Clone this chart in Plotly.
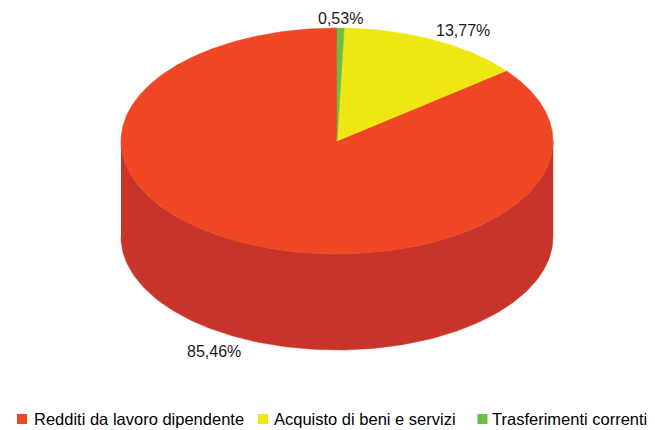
import numpy as np
import plotly.graph_objects as go

categories = ["Redditi da lavoro dipendente", "Acquisto di beni e servizi", "Trasferimenti correnti"]
values = [85.46, 13.77, 0.53]
labels = ["85,46%", "13,77%", "0,53%"]

top_colors = ["#EF4623", "#EEE713", "#6ABD45"]
side_colors = ["#C9342A", "#C4BE10", "#559A37"]

# geometry (pixel space of the browser window)
CX, CY, RX, RY, DEPTH = 337, 141, 216, 113, 96
START = 90.0  # degrees, counter-clockwise direction
PAGE_OFFSET = 8  # default body margin of the page

total = sum(values)
fig = go.Figure()

def pt(t, dy=0.0):
    r = np.radians(t)
    return CX + RX * np.cos(r), CY - RY * np.sin(r) + dy

ranges = []
a = START
for v in values:
    span = v / total * 360.0
    ranges.append((a, a + span))
    a += span

# visible front sides
for (a0, a1), col in zip(ranges, side_colors):
    for k in range(-1, 3):
        lo = max(a0, 180 + 360 * k)
        hi = min(a1, 360 + 360 * k)
        if hi > lo:
            t = np.linspace(lo, hi, 160)
            xs_t, ys_t = pt(t)
            xs_b, ys_b = pt(t[::-1], DEPTH)
            fig.add_trace(go.Scatter(
                x=np.concatenate([xs_t, xs_b]), y=np.concatenate([ys_t, ys_b]),
                fill="toself", fillcolor=col, mode="lines",
                line=dict(width=0.5, color=col), hoverinfo="skip", showlegend=False))

# top faces
for (a0, a1), col in zip(ranges, top_colors):
    t = np.linspace(a0, a1, max(4, int((a1 - a0) * 2)))
    xs, ys = pt(t)
    fig.add_trace(go.Scatter(
        x=np.concatenate([[CX], xs, [CX]]), y=np.concatenate([[CY], ys, [CY]]),
        fill="toself", fillcolor=col, mode="lines",
        line=dict(width=0.5, color=col), hoverinfo="skip", showlegend=False))

FONT = "Liberation Sans, Arial"

# data labels
for (a0, a1), lab in zip(ranges, labels):
    m = (a0 + a1) / 2
    c, s = np.cos(np.radians(m)), np.sin(np.radians(m))
    x, y = pt(m)
    if s < 0:
        y += DEPTH
    if abs(c) < 0.15:
        xa = "center"
    elif c > 0:
        xa = "left"
    else:
        xa = "right"
    ya = "bottom" if s > 0 else "top"
    fig.add_annotation(x=x, y=y + (1 if s > 0 else 2), text=lab, showarrow=False,
                       xanchor=xa, yanchor=ya,
                       font=dict(family=FONT, size=16, color="#1a1a1a"))

# legend (custom, bottom row)
LEG_Y = 419
leg_sq_x = [22, 263, 482.5]
leg_tx_x = [32, 272, 490]
fig.add_trace(go.Scatter(x=leg_sq_x, y=[LEG_Y] * 3, mode="markers",
                         marker=dict(symbol="square", size=10, color=top_colors, line=dict(width=0)),
                         hoverinfo="skip", showlegend=False))
for name, tx in zip(categories, leg_tx_x):
    fig.add_annotation(x=tx, y=LEG_Y, text=name, showarrow=False, xanchor="left",
                       yanchor="middle", font=dict(family=FONT, size=16.5, color="#000"))

fig.update_layout(
    width=655, height=430, margin=dict(l=0, r=0, t=0, b=0),
    paper_bgcolor="white", plot_bgcolor="white",
    xaxis=dict(range=[PAGE_OFFSET, 655 + PAGE_OFFSET], visible=False, fixedrange=True),
    yaxis=dict(range=[430 + PAGE_OFFSET, PAGE_OFFSET], visible=False, fixedrange=True),
    showlegend=False,
)
fig.write_html("out.html")
